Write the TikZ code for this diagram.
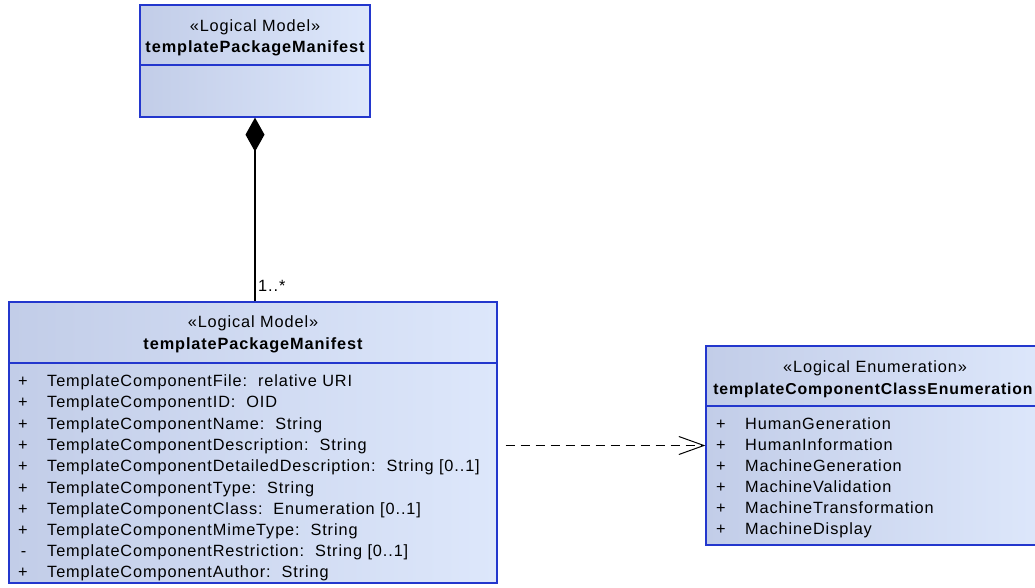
\documentclass[tikz,border=0pt]{standalone}
\usepackage{fontspec}
\setmainfont{Liberation Sans}[LetterSpace=5.5]
\usetikzlibrary{arrows.meta}
\definecolor{umlblue}{RGB}{35,55,205}
\definecolor{boxleft}{RGB}{194,205,232}
\definecolor{boxright}{RGB}{221,231,251}

\begin{document}
\begin{tikzpicture}[x=1pt,y=-1pt]
				\tikzstyle{every node}=[font=\fontsize{16.3}{19}\selectfont,inner sep=0pt,text height=12pt,text depth=3pt]
				\tikzstyle{classbox}=[rectangle,draw=umlblue,line width=1.3pt,left color=boxleft,middle color=boxright,right color=boxright]
				\tikzstyle{divider}=[draw=umlblue,line width=1.3pt]
				\tikzstyle{attr}=[anchor=west]
				\tikzstyle{compose}=[{Diamond[length=34pt,width=19pt]}-,line width=1.2pt]
				\tikzstyle{depend}=[-{Straight Barb[length=25pt,width=18pt]},dash pattern=on 9pt off 6pt,line width=1pt,shorten <=8pt]
				\clip (0,0) rectangle (1035,588);
				% top class
				\node[classbox,minimum width=230pt,minimum height=112pt] (tbox) at (255,61) {};
				\draw[divider] (tbox.west |- 0,65) -- (tbox.east |- 0,65);
				\node (tstereo) at (255,27) {«Logical Model»};
				\node[font=\fontsize{16.3}{19}\selectfont\bfseries] (tname) at (255,48) {templatePackageManifest};
				% bottom class
				\node[classbox,minimum width=488pt,minimum height=281pt] (bbox) at (253,442.5) {};
				\draw[divider] (bbox.west |- 0,363) -- (bbox.east |- 0,363);
				\node (bstereo) at (253,323) {«Logical Model»};
				\node[font=\fontsize{16.3}{19}\selectfont\bfseries] (bname) at (253,345) {templatePackageManifest};
				\node[attr] (a1) at (18,382) {\makebox[29pt][l]{+}TemplateComponentFile:\ \ relative URI};
				\node[attr] (a2) at (18,403) {\makebox[29pt][l]{+}TemplateComponentID:\ \ OID};
				\node[attr] (a3) at (18,424.5) {\makebox[29pt][l]{+}TemplateComponentName:\ \ String};
				\node[attr] (a4) at (18,446) {\makebox[29pt][l]{+}TemplateComponentDescription:\ \ String};
				\node[attr] (a5) at (18,467) {\makebox[29pt][l]{+}TemplateComponentDetailedDescription:\ \ String [0..1]};
				\node[attr] (a6) at (18,488.5) {\makebox[29pt][l]{+}TemplateComponentType:\ \ String};
				\node[attr] (a7) at (18,509.5) {\makebox[29pt][l]{+}TemplateComponentClass:\ \ Enumeration [0..1]};
				\node[attr] (a8) at (18,531) {\makebox[29pt][l]{+}TemplateComponentMimeType:\ \ String};
				\node[attr] (a9) at (18,552) {\makebox[29pt][l]{\,-}TemplateComponentRestriction:\ \ String [0..1]};
				\node[attr] (a10) at (18,573) {\makebox[29pt][l]{+}TemplateComponentAuthor:\ \ String};
				% enumeration
				\node[classbox,minimum width=338pt,minimum height=199pt] (ebox) at (875,445.5) {};
				\draw[divider] (ebox.west |- 0,406) -- (ebox.east |- 0,406);
				\node (estereo) at (875,368) {«Logical Enumeration»};
				\node[font=\fontsize{15.8}{19}\selectfont\bfseries] (ename) at (873,390) {templateComponentClassEnumeration};
				\node[attr] (e1) at (716,425) {\makebox[29pt][l]{+}HumanGeneration};
				\node[attr] (e2) at (716,446) {\makebox[29pt][l]{+}HumanInformation};
				\node[attr] (e3) at (716,467) {\makebox[29pt][l]{+}MachineGeneration};
				\node[attr] (e4) at (716,488) {\makebox[29pt][l]{+}MachineValidation};
				\node[attr] (e5) at (716,509) {\makebox[29pt][l]{+}MachineTransformation};
				\node[attr] (e6) at (716,530) {\makebox[29pt][l]{+}MachineDisplay};
				% connectors
				\draw[compose] (tbox.south) -- (tbox.south |- bbox.north);
				\node[anchor=south west] (mult) at ([xshift=3pt,yshift=7pt]tbox.south |- bbox.north) {1..*};
				\draw[depend] (bbox.east |- ebox.west) -- (ebox.west);
\end{tikzpicture}
\end{document}
